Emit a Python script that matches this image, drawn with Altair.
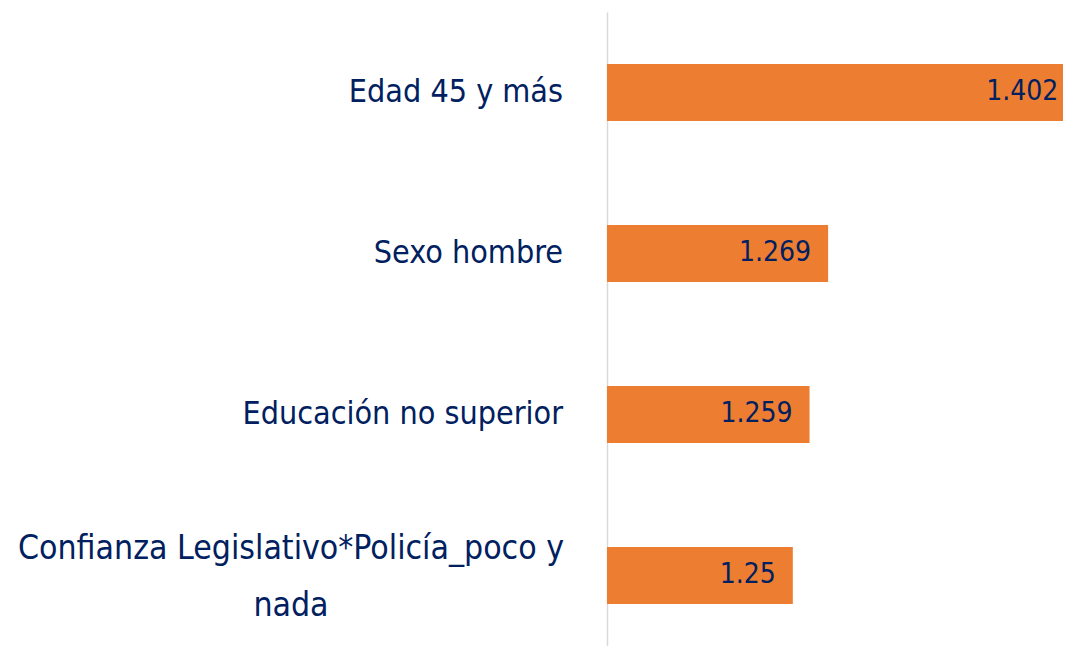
import altair as alt
import pandas as pd

categories = [
    "Edad 45 y más",
    "Sexo hombre",
    "Educación no superior",
    "Confianza Legislativo*Policía_poco y|nada",
]
values = [1.402, 1.269, 1.259, 1.25]
value_labels = ["1.402", "1.269", "1.259", "1.25"]
multiline = [False, False, False, True]

df = pd.DataFrame({
    "cat": categories,
    "val": values,
    "lab": value_labels,
    "ml": multiline,
})

NAVY = "#002060"
ORANGE = "#ED7D31"
FONT = "DejaVu Sans Condensed"

y_enc = alt.Y(
    "cat:N",
    sort=categories,
    scale=alt.Scale(paddingInner=0.646, paddingOuter=0.292, align=0.553),
    axis=alt.Axis(labels=False, ticks=False, title=None, grid=False,
                  domainColor="#D9D9D9", domainWidth=1.5),
)
x_enc = alt.X(
    "val:Q",
    scale=alt.Scale(domain=[1.15, 1.3954], zero=False),
    axis=None,
)

base = alt.Chart(df)

bars = base.mark_bar(color=ORANGE).encode(
    y=y_enc,
    x=x_enc,
    x2=alt.datum(1.15),
)

vals = base.mark_text(
    align="right", baseline="middle", dx=-17, font=FONT, fontSize=28, color=NAVY
).encode(y=y_enc, x=x_enc, text="lab:N")

cat_single = base.transform_filter("!datum.ml").mark_text(
    align="right", baseline="middle", font=FONT, fontSize=32, color=NAVY
).encode(y=y_enc, x=alt.value(-44), text="cat:N")

cat_multi = base.transform_filter("datum.ml").mark_text(
    align="center", baseline="middle", font=FONT, fontSize=33.5, color=NAVY,
    lineBreak="|", lineHeight=57, dy=-26
).encode(y=y_enc, x=alt.value(-316), text="cat:N")

chart = alt.layer(bars, vals, cat_single, cat_multi).properties(
    width=456,
    height=634,
    autosize=alt.AutoSizeParams(type="none"),
    padding={"left": 599, "top": 4, "right": 0, "bottom": 0},
    background="white",
).configure_view(stroke=None)

chart.save("out.html", embed_options={"renderer": "svg", "actions": False})
